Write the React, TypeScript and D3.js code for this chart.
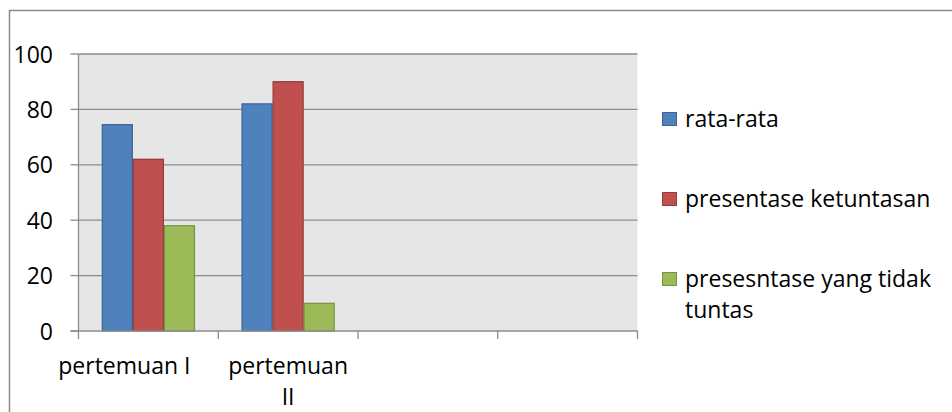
import React from "react";
import * as d3 from "d3";

// Categories (the last two slots are empty) and series values
const categories = ["pertemuan I", "pertemuan II", "", ""];
const categoryLines = [["pertemuan I"], ["pertemuan", "II"], [], []];
const seriesNames = ["rata-rata", "presentase ketuntasan", "presesntase yang tidak tuntas"];
const legendLines = [["rata-rata"], ["presentase ketuntasan"], ["presesntase yang tidak", "tuntas"]];
const rataRata = [74.5, 82, null, null];
const ketuntasan = [62, 90, null, null];
const tidakTuntas = [38, 10, null, null];
const yTicks = [0, 20, 40, 60, 80, 100];

const fills = ["#4f81bd", "#c0504d", "#9bbb59"];
const strokes = ["#3a6496", "#943a38", "#76923c"];

const W = 952;
const H = 412;
const plot = { left: 78.5, right: 637.5, top: 54, bottom: 331 };
const FONT = "'Open Sans', 'Liberation Sans', sans-serif";
const FS = 23;
const LINE = 31;

export default function App() {
  const values = [rataRata, ketuntasan, tidakTuntas];
  const x = d3.scaleBand<number>().domain(d3.range(categories.length)).range([plot.left, plot.right]).padding(0);
  const xs = d3
    .scaleBand<number>()
    .domain(d3.range(seriesNames.length))
    .range([0, x.bandwidth()])
    .paddingInner(0)
    .paddingOuter(0.75);
  const y = d3.scaleLinear().domain([0, 100]).range([plot.bottom, plot.top]);

  const boundaries = d3.range(categories.length + 1).map((i) => plot.left + i * x.step());

  return (
    <svg
      width={W}
      height={H}
      style={{ position: "fixed", left: 0, top: 0, background: "#fff" }}
      fontFamily={FONT}
    >
      {/* chart frame */}
      <rect x={9.5} y={10.5} width={W + 20} height={H + 20} fill="#fff" stroke="#8a8a8a" strokeWidth={1.5} />

      {/* plot area */}
      <rect x={plot.left} y={plot.top} width={plot.right - plot.left} height={plot.bottom - plot.top} fill="#e6e6e6" />

      {/* gridlines and y ticks */}
      {yTicks.map((t) => (
        <g key={t}>
          {t > 0 && (
            <line x1={plot.left} x2={plot.right} y1={y(t)} y2={y(t)} stroke="#8c8c8c" strokeWidth={1.3} />
          )}
          <line x1={plot.left - 8} x2={plot.left} y1={y(t)} y2={y(t)} stroke="#8c8c8c" strokeWidth={1.3} />
          <text x={53} y={y(t) + 8.5} textAnchor="end" fontSize={FS} fill="#000">
            {t}
          </text>
        </g>
      ))}

      {/* bars */}
      {categories.map((c, i) => (
        <g key={i} transform={`translate(${x(i)},0)`}>
          {values.map((vals, s) => {
            const v = vals[i];
            if (v == null) return null;
            return (
              <rect
                key={s}
                x={xs(s)! + 0.5}
                y={y(v)}
                width={xs.bandwidth() - 1}
                height={y(0) - y(v)}
                fill={fills[s]}
                stroke={strokes[s]}
                strokeWidth={1.2}
              />
            );
          })}
        </g>
      ))}

      {/* axes */}
      <line x1={plot.left} x2={plot.left} y1={plot.top} y2={plot.bottom} stroke="#8c8c8c" strokeWidth={1.3} />
      <line x1={plot.left - 8} x2={plot.right} y1={plot.bottom} y2={plot.bottom} stroke="#8c8c8c" strokeWidth={1.3} />
      {boundaries.map((bx, i) => (
        <line key={i} x1={bx} x2={bx} y1={plot.bottom} y2={plot.bottom + 8} stroke="#8c8c8c" strokeWidth={1.3} />
      ))}

      {/* category labels */}
      {categoryLines.map((lines, i) => {
        const cx = x(i)! + x.bandwidth() / 2 + (lines.length === 1 ? -24 : 0);
        return (
          <text key={i} x={cx} y={374} textAnchor="middle" fontSize={FS} fill="#000">
            {lines.map((l, j) => (
              <tspan key={j} x={cx} dy={j === 0 ? 0 : LINE}>
                {l}
              </tspan>
            ))}
          </text>
        );
      })}

      {/* legend */}
      {legendLines.map((lines, s) => {
        const cy = 119 + s * 80;
        return (
          <g key={s}>
            <rect x={662.5} y={cy - 6.5} width={14} height={13} fill={fills[s]} stroke={strokes[s]} strokeWidth={1} />
            <text x={685} y={cy + 8} fontSize={FS} fill="#000">
              {lines.map((l, j) => (
                <tspan key={j} x={685} dy={j === 0 ? 0 : LINE}>
                  {l}
                </tspan>
              ))}
            </text>
          </g>
        );
      })}
    </svg>
  );
}
